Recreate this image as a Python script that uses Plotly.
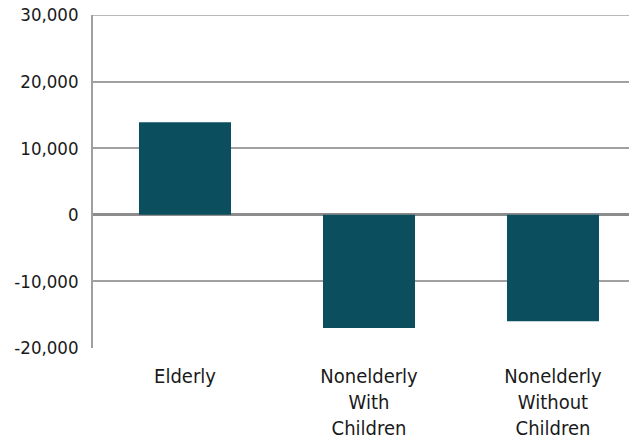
import plotly.graph_objects as go

categories = ["Elderly", "Nonelderly<br>With<br>Children", "Nonelderly<br>Without<br>Children"]
values = [13900, -17000, -16000]
tick_vals = [-20000, -10000, 0, 10000, 20000, 30000]
tick_text = ["-20,000", "-10,000", "0", "10,000", "20,000", "30,000"]

positions = list(range(len(categories)))

fig = go.Figure(go.Bar(
    x=positions, y=values, width=0.5,
    marker=dict(color="#0b4f5f", line=dict(width=0)),
))

font_family = "DejaVu Sans Condensed, Roboto, sans-serif"

fig.update_layout(
    width=629, height=445,
    margin=dict(l=93, r=0, t=15, b=97),
    paper_bgcolor="white", plot_bgcolor="white",
    showlegend=False,
    font=dict(family=font_family, size=19, color="#1a1a1a"),
    bargap=0.5,
)
fig.update_xaxes(
    range=[-0.5, 2.413],
    tickvals=positions, ticktext=categories,
    showgrid=False, zeroline=False, showline=False,
    ticks="", ticklabelstandoff=14,
    tickfont=dict(size=20, family=font_family),
)
fig.update_yaxes(
    range=[-20000, 30000],
    tickvals=tick_vals, ticktext=tick_text,
    showgrid=True, gridcolor="#a0a0a0", gridwidth=1.5,
    zeroline=True, zerolinecolor="#8c8c8c", zerolinewidth=3,
    showline=True, linecolor="#a0a0a0", linewidth=1.5,
    ticks="", ticklabelstandoff=9,
    tickfont=dict(size=18.5, family=font_family),
)
fig.add_shape(type="line", xref="paper", yref="y", x0=0, x1=1, y0=30000, y1=30000,
              line=dict(color="#a0a0a0", width=1.5), layer="below")

fig.write_html("out.html")
